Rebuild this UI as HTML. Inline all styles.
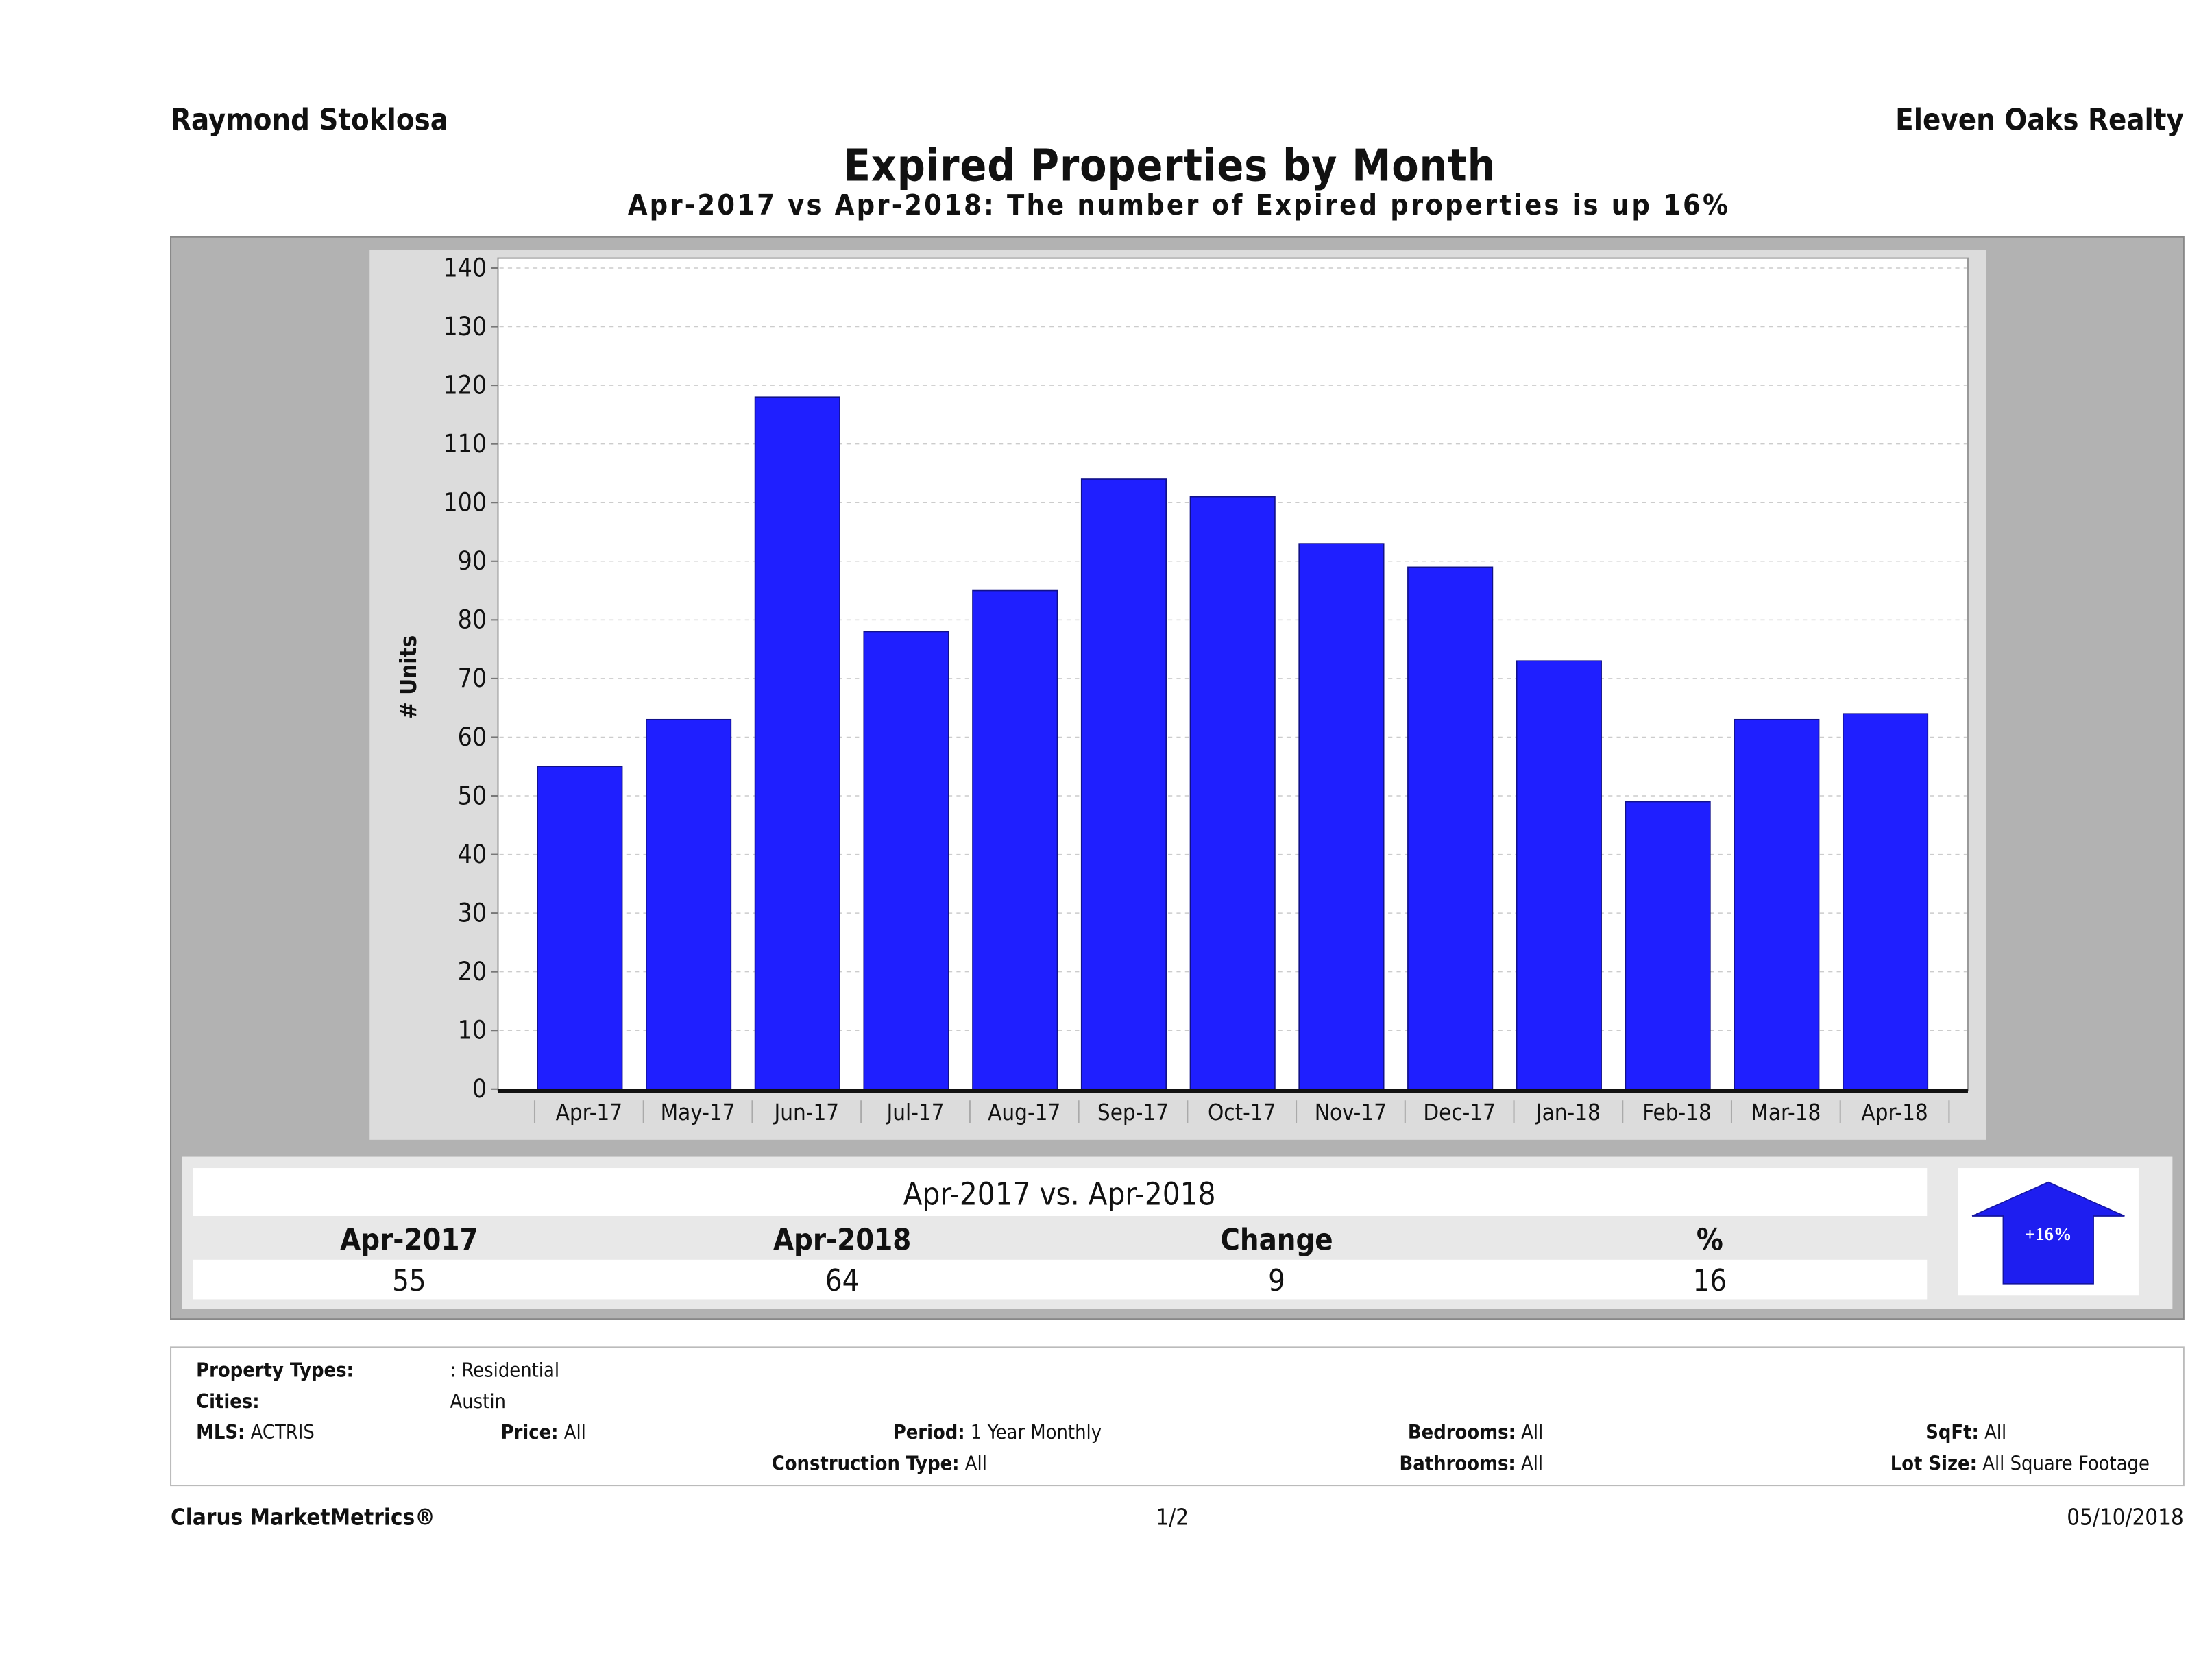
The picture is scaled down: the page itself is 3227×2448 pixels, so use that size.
<!DOCTYPE html>
<html><head><meta charset="utf-8"><style>
html,body{margin:0;padding:0;background:#fff;width:3227px;height:2448px;overflow:hidden}
svg{display:block}
text{font-family:"DejaVu Sans Condensed","DejaVu Sans","Liberation Sans",sans-serif;fill:#111}
</style></head><body>
<svg id="s" width="3227" height="2448" viewBox="0 0 1568 1189.5" xmlns="http://www.w3.org/2000/svg">
<text x="121" y="92" font-size="21" font-weight="bold">Raymond Stoklosa</text>
<text x="1548" y="92" font-size="21" font-weight="bold" text-anchor="end">Eleven Oaks Realty</text>
<text x="829" y="128" font-size="31" font-weight="bold" text-anchor="middle" textLength="462">Expired Properties by Month</text>
<text x="835" y="152" font-size="20" font-weight="bold" text-anchor="middle" textLength="780">Apr-2017 vs Apr-2018: The number of Expired  properties is up 16%</text>

<rect x="121" y="168" width="1427" height="767" fill="#b2b2b2" stroke="#888"/>
<rect x="262" y="177" width="1146" height="631" fill="#dcdcdc"/>
<rect x="353" y="183" width="1042" height="590" fill="#fff" stroke="#999"/>
<g id="grid"></g>
<g id="bars"></g>
<g id="xaxis"></g>
<text transform="translate(295,480) rotate(-90)" font-size="16" font-weight="bold" text-anchor="middle"># Units</text>

<rect x="129" y="820" width="1411" height="108" fill="#e8e8e8"/>
<rect x="137" y="828" width="1229" height="34" fill="#fff"/>
<rect x="137" y="893" width="1229" height="28" fill="#fff"/>
<text x="751" y="854" font-size="22" text-anchor="middle">Apr-2017 vs. Apr-2018</text>
<text x="290" y="886" font-size="21" font-weight="bold" text-anchor="middle">Apr-2017</text>
<text x="597" y="886" font-size="21" font-weight="bold" text-anchor="middle">Apr-2018</text>
<text x="905" y="886" font-size="21" font-weight="bold" text-anchor="middle">Change</text>
<text x="1212" y="886" font-size="21" font-weight="bold" text-anchor="middle">%</text>
<text x="290" y="915" font-size="21" text-anchor="middle">55</text>
<text x="597" y="915" font-size="21" text-anchor="middle">64</text>
<text x="905" y="915" font-size="21" text-anchor="middle">9</text>
<text x="1212" y="915" font-size="21" text-anchor="middle">16</text>
<rect x="1388" y="828" width="128" height="90" fill="#fff"/>
<polygon points="1452,838 1506,862 1484,862 1484,910 1420,910 1420,862 1398,862" fill="#1e1ef0" stroke="#1414a0" stroke-width="0.8"/>
<text x="1452" y="879" font-size="13" font-weight="bold" fill="#fff" style="fill:#fff;font-family:'Liberation Serif',serif" text-anchor="middle">+16%</text>

<rect x="121" y="955" width="1427" height="98" fill="#fff" stroke="#bbb"/>
<g font-size="14">
<text x="139" y="976" font-weight="bold">Property Types:</text>
<text x="319" y="976">: Residential</text>
<text x="139" y="998" font-weight="bold">Cities:</text>
<text x="319" y="998">Austin</text>
<text x="139" y="1020"><tspan font-weight="bold">MLS:</tspan>   ACTRIS</text>
<text x="355" y="1020"><tspan font-weight="bold">Price:</tspan> All</text>
<text x="633" y="1020"><tspan font-weight="bold">Period:</tspan> 1 Year Monthly</text>
<text x="998" y="1020"><tspan font-weight="bold">Bedrooms:</tspan> All</text>
<text x="1365" y="1020"><tspan font-weight="bold">SqFt:</tspan>  All</text>
<text x="547" y="1042"><tspan font-weight="bold">Construction Type:</tspan> All</text>
<text x="992" y="1042"><tspan font-weight="bold">Bathrooms:</tspan> All</text>
<text x="1340" y="1042"><tspan font-weight="bold">Lot Size:</tspan>  All Square Footage</text>
</g>
<text x="121" y="1081" font-size="16" font-weight="bold">Clarus MarketMetrics®</text>
<text x="831" y="1081" font-size="16" text-anchor="middle">1/2</text>
<text x="1548" y="1081" font-size="16" text-anchor="end">05/10/2018</text>
</svg>
<script>
const categories = ["Apr-17","May-17","Jun-17","Jul-17","Aug-17","Sep-17","Oct-17","Nov-17","Dec-17","Jan-18","Feb-18","Mar-18","Apr-18"];
const expiredCounts = [55,63,118,78,85,104,101,93,89,73,49,63,64];
const yTicks = [0,10,20,30,40,50,60,70,80,90,100,110,120,130,140];

const NS = "http://www.w3.org/2000/svg";
const yScale = v => 772 - v * (582 / 140);
const xCenter = i => 411 + i * ((1336.5 - 411) / (categories.length - 1));
const step = (1336.5 - 411) / (categories.length - 1);
function mk(tag, attrs, parent, txt) {
  const e = document.createElementNS(NS, tag);
  for (const k in attrs) e.setAttribute(k, attrs[k]);
  if (txt !== undefined) e.textContent = txt;
  parent.appendChild(e);
  return e;
}
const grid = document.getElementById('grid');
yTicks.forEach(t => {
  const y = yScale(t);
  if (t > 0) {
    const g = mk('line', {x1: 354, x2: 1394, y1: y, y2: y, stroke: '#ccc', 'stroke-width': 0.7, 'stroke-dasharray': '3,3'}, grid);
    
    
  }
  const tk = mk('line', {x1: 348, x2: 353, y1: y, y2: y, stroke: '#777', 'stroke-width': 1}, grid);
  
  
  const lb = mk('text', {x: 345, y: y + 6, 'font-size': 18, 'text-anchor': 'end'}, grid, String(t));
  
  
});
const bars = document.getElementById('bars');
expiredCounts.forEach((v, i) => {
  const cx = xCenter(i);
  const r = mk('rect', {x: cx - 30, y: yScale(v), width: 60, height: 772 - yScale(v), fill: '#1f1fff', stroke: '#11118a', 'stroke-width': 0.8}, bars);
  
  
});
const xa = document.getElementById('xaxis');
const ax = mk('rect', {x: 353, y: 772, width: 1042, height: 3, fill: '#111'}, xa);


for (let i = 0; i <= categories.length; i++) {
  const sx = 379 + i * step;
  const s = mk('line', {x1: sx, x2: sx, y1: 780, y2: 796, stroke: '#aaa', 'stroke-width': 1}, xa);
  
  
}
categories.forEach((c, i) => {
  const t = mk('text', {x: 379 + i * step + step / 2, y: 794, 'font-size': 16, 'text-anchor': 'middle'}, xa, c);
  
  
});
</script>
</body></html>
